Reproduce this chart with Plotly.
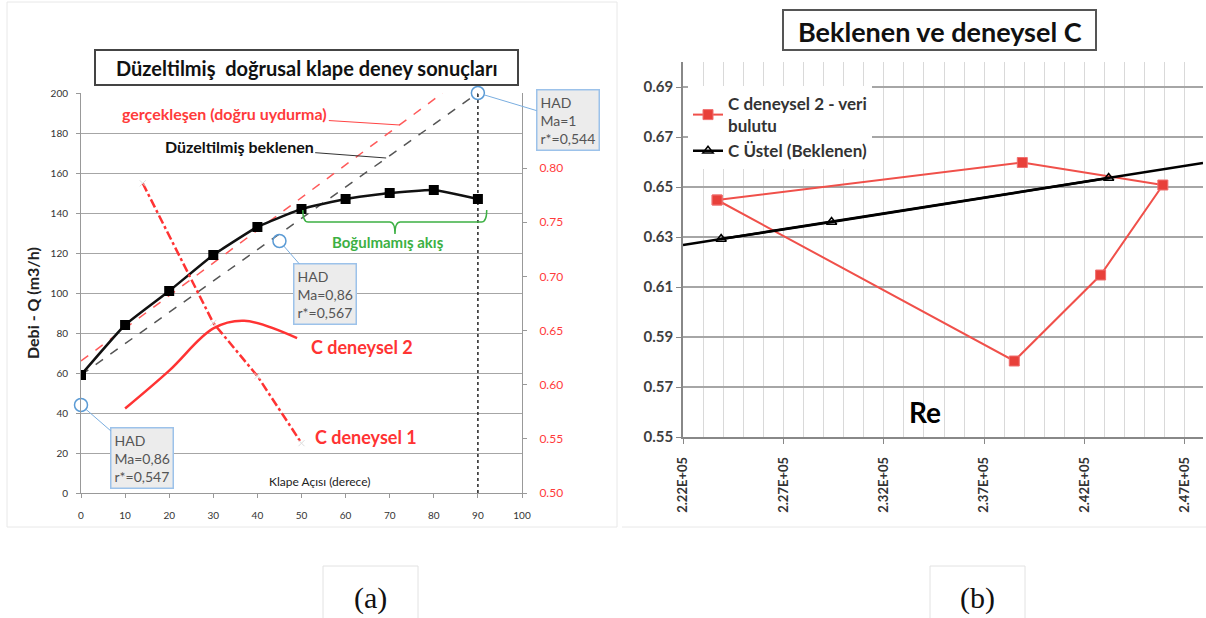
import plotly.graph_objects as go

# ---------------- data: left chart ----------------
klape_aci = [0, 10, 20, 30, 40, 50, 60, 70, 80, 90]
debi = [59, 84, 101, 119, 133, 142, 147, 150, 151.5, 147]
gercek_x = [0, 82]
gercek_y = [66, 200]
beklenen_x = [0, 90]
beklenen_y = [59, 200]
had_x = [0, 45, 90]
had_y = [44, 126, 200]
had_ma = ["0,86", "0,86", "1"]
had_r = ["0,547", "0,567", "0,544"]
c1_x = [14, 30, 40, 50]
c1_y = [0.786, 0.657, 0.608, 0.546]
c2_x = [10, 20, 30, 37, 49]
c2_y = [0.578, 0.613, 0.652, 0.659, 0.643]
left_x_ticks = list(range(0, 101, 10))
left_y_ticks = list(range(0, 201, 20))
right2_ticks = [0.50, 0.55, 0.60, 0.65, 0.70, 0.75, 0.80]

# ---------------- data: right chart ----------------
re_den = [223700, 238900, 245900, 242800, 238500, 223700]
c_den = [0.6448, 0.6598, 0.6508, 0.6148, 0.5804, 0.6448]
re_bek = [223900, 229400, 243200]
c_bek = [0.6292, 0.636, 0.6536]
re_trend = [222000, 247900]
c_trend = [0.6268, 0.6596]
re_tickvals = [222000, 227000, 232000, 237000, 242000, 247000]
re_ticktext = ["2.22E+05", "2.27E+05", "2.32E+05", "2.37E+05", "2.42E+05", "2.47E+05"]
c_ticks = [0.55, 0.57, 0.59, 0.61, 0.63, 0.65, 0.67, 0.69]

W, H = 1206, 618
def px(x):
    return x / W
def py(y):
    return 1 - y / H

FONT = "Lato"
fig = go.Figure()

# ---- left chart traces ----
fig.add_trace(go.Scatter(x=[had_x[2], had_x[2]], y=[0, had_y[2]], mode="lines",
                         line=dict(color="#222", width=1.5, dash="dot"), showlegend=False))
fig.add_trace(go.Scatter(x=gercek_x, y=gercek_y, mode="lines",
                         line=dict(color="#ff5a5a", width=1.5, dash="dash"), showlegend=False))
fig.add_trace(go.Scatter(x=beklenen_x, y=beklenen_y, mode="lines",
                         line=dict(color="#555", width=1.5, dash="dash"), showlegend=False))
fig.add_trace(go.Scatter(x=klape_aci, y=debi, mode="lines+markers",
                         line=dict(color="#111", width=2.5, shape="spline", smoothing=0.4),
                         marker=dict(symbol="square", size=10, color="#000"), showlegend=False))
fig.add_trace(go.Scatter(x=had_x, y=had_y, mode="markers", cliponaxis=False,
                         marker=dict(symbol="circle-open", size=13, color="#5b9bd5",
                                     line=dict(width=1.5)), showlegend=False))
fig.add_trace(go.Scatter(x=c1_x, y=c1_y, yaxis="y2", mode="lines+markers",
                         line=dict(color="#ff3333", width=2.5, dash="dashdot"),
                         marker=dict(symbol="x-thin", size=6, color="#dddddd",
                                     line=dict(width=1, color="#dddddd")),
                         showlegend=False))
fig.add_trace(go.Scatter(x=c2_x, y=c2_y, yaxis="y2", mode="lines",
                         line=dict(color="#ff3333", width=2.5, shape="spline", smoothing=1.0),
                         showlegend=False))

# ---- right chart traces ----
fig.add_trace(go.Scatter(x=re_den, y=c_den, xaxis="x2", yaxis="y3", mode="lines+markers",
                         name="C deneysel 2 - veri<br>bulutu",
                         line=dict(color="#f0504a", width=2),
                         marker=dict(symbol="square", size=10, color="#e8403a",
                                     line=dict(color="#f07070", width=1))))
fig.add_trace(go.Scatter(x=re_trend, y=c_trend, xaxis="x2", yaxis="y3", mode="lines",
                         line=dict(color="#000", width=2.5), showlegend=False))
fig.add_trace(go.Scatter(x=re_bek, y=c_bek, xaxis="x2", yaxis="y3", mode="lines+markers",
                         name="C Üstel (Beklenen)",
                         line=dict(color="#000", width=2.5),
                         marker=dict(symbol="triangle-up-open", size=9, color="#000",
                                     line=dict(width=1.5))))

tickfont_l = dict(family=FONT, size=10, color="#333")
fig.update_layout(
    width=W, height=H, margin=dict(l=0, r=0, t=0, b=0, autoexpand=False),
    paper_bgcolor="white", plot_bgcolor="white",
    font=dict(family=FONT),
    xaxis=dict(domain=[px(81), px(522)], range=[0, 100], tickvals=left_x_ticks, automargin=False,
               showgrid=False, zeroline=False, showline=True, linecolor="#999", linewidth=1,
               ticks="outside", ticklen=4, tickcolor="#999", tickfont=tickfont_l, anchor="y",
               ticklabelstandoff=9),
    yaxis=dict(domain=[py(493), py(93)], range=[0, 200], tickvals=left_y_ticks, automargin=False,
               showgrid=True, gridcolor="#a6a6a6", gridwidth=1.3, zeroline=False,
               showline=True, linecolor="#999", ticks="outside", ticklen=4, tickcolor="#999",
               tickfont=tickfont_l, anchor="x", ticklabelstandoff=6),
    yaxis2=dict(overlaying="y", side="right", anchor="x", range=[0.5, 0.8694], automargin=False,
                tickvals=right2_ticks, tickformat=".2f", showgrid=False, zeroline=False,
                showline=True, linecolor="#999", ticks="outside", ticklen=4, tickcolor="#999",
                tickfont=dict(family=FONT, size=12, color="#ff3b3b"), ticklabelstandoff=10),
    xaxis2=dict(domain=[px(683), px(1203)], range=[222000, 247900], anchor="y3", automargin=False,
                tickvals=re_tickvals, ticktext=re_ticktext, tickangle=-90,
                showgrid=True, gridcolor="#d9d9d9", gridwidth=1,
                minor=dict(dtick=1000, tick0=222000, showgrid=True, gridcolor="#d9d9d9", gridwidth=1),
                zeroline=False, showline=True, linecolor="#888", linewidth=1.5,
                ticks="outside", ticklen=5, tickcolor="#888", ticklabelstandoff=8,
                tickfont=dict(family=FONT, size=13, color="#333", weight="bold")),
    yaxis3=dict(domain=[py(437), py(62)], range=[0.55, 0.70], anchor="x2", automargin=False,
                tickvals=c_ticks, tickformat=".2f",
                showgrid=True, gridcolor="#a6a6a6", gridwidth=1.8, zeroline=False,
                showline=True, linecolor="#888", linewidth=1.5,
                ticks="outside", ticklen=5, tickcolor="#888",
                tickfont=dict(family=FONT, size=15, color="#404040", weight="bold")),
    legend=dict(x=px(688), y=py(86), xanchor="left", yanchor="top",
                bgcolor="white", borderwidth=0, tracegroupgap=2,
                font=dict(family=FONT, size=17, color="#333", weight="bold"),
                itemwidth=30),
)

shapes = []
# panel frames
shapes.append(dict(type="rect", xref="paper", yref="paper", x0=px(7), x1=px(617), y0=py(527), y1=py(2),
                   line=dict(color="#e8e8e8", width=1)))
shapes.append(dict(type="line", xref="paper", yref="paper", x0=px(622), x1=px(1206), y0=py(527), y1=py(527),
                   line=dict(color="#e8e8e8", width=1)))
# title boxes
shapes.append(dict(type="rect", xref="paper", yref="paper", x0=px(95), x1=px(518), y0=py(85), y1=py(50),
                   line=dict(color="#444", width=2), fillcolor="white"))
shapes.append(dict(type="rect", xref="paper", yref="paper", x0=px(783), x1=px(1096), y0=py(50), y1=py(10),
                   line=dict(color="#555", width=2), fillcolor="white"))
# (a) (b) boxes
shapes.append(dict(type="rect", xref="paper", yref="paper", x0=px(323), x1=px(418), y0=py(620), y1=py(566),
                   line=dict(color="#e2e2e2", width=1)))
shapes.append(dict(type="rect", xref="paper", yref="paper", x0=px(930), x1=px(1025), y0=py(620), y1=py(566),
                   line=dict(color="#e2e2e2", width=1)))
# bracket "Boğulmamış akış"
shapes.append(dict(type="path", xref="x", yref="y",
                   path="M50.3,141.5 Q50.3,135.5 51.5,135.5 L70,135.5 Q71.2,135.5 71.2,129.5 "
                        "Q71.2,135.5 72.4,135.5 L90.8,135.5 Q92,135.5 92,141.5",
                   line=dict(color="#3cb043", width=1.5)))
fig.update_layout(shapes=shapes)

C = dict(xanchor="center", yanchor="middle")
ann = []
ann.append(dict(xref="paper", yref="paper", x=px(307), y=py(68), showarrow=False, **C,
                text="Düzeltilmiş\u00a0\u00a0doğrusal klape deney sonuçları",
                font=dict(family=FONT, size=20, color="#111", weight="bold")))
ann.append(dict(xref="paper", yref="paper", x=px(940), y=py(31), showarrow=False, **C,
                text="Beklenen ve deneysel C",
                font=dict(family=FONT, size=27, color="#111", weight="bold")))
# arrows / labels left
ann.append(dict(xref="x", yref="y", x=72.3, y=184, ax=-175, ay=-11, showarrow=True,
                arrowhead=0, arrowwidth=1, arrowcolor="#ff4444",
                text="gerçekleşen (doğru uydurma)",
                font=dict(family=FONT, size=16, color="#ff3b3b", weight="bold")))
ann.append(dict(xref="x", yref="y", x=69.2, y=167.5, ax=-147, ay=-11, showarrow=True,
                arrowhead=0, arrowwidth=1, arrowcolor="#333",
                text="Düzeltilmiş beklenen",
                font=dict(family=FONT, size=16, color="#111", weight="bold")))
ann.append(dict(xref="paper", yref="paper", x=px(388), y=py(242), showarrow=False, **C,
                text="Boğulmamış akış",
                font=dict(family=FONT, size=15, color="#3cb043", weight="bold")))
ann.append(dict(xref="paper", yref="paper", x=px(309), y=py(347), xanchor="left", yanchor="middle",
                showarrow=False, text="C deneysel 2",
                font=dict(family=FONT, size=18, color="#ff3333", weight="bold")))
ann.append(dict(xref="paper", yref="paper", x=px(313), y=py(437), xanchor="left", yanchor="middle",
                showarrow=False, text="C deneysel 1",
                font=dict(family=FONT, size=18, color="#ff3333", weight="bold")))
ann.append(dict(xref="paper", yref="paper", x=px(319), y=py(481), showarrow=False, **C,
                text="Klape Açısı (derece)",
                font=dict(family=FONT, size=12, color="#222")))
ann.append(dict(xref="paper", yref="paper", x=px(32), y=py(303), showarrow=False, textangle=-90, **C,
                text="Debi - Q (m3/h)",
                font=dict(family=FONT, size=16, color="#222", weight="bold")))
# HAD boxes
offsets = [(61, 53), (46, 53), (90, 27)]
for i in range(3):
    ann.append(dict(xref="x", yref="y", x=had_x[i], y=had_y[i], ax=offsets[i][0], ay=offsets[i][1],
                    showarrow=True, arrowhead=0, arrowwidth=1, arrowcolor="#7aaee0",
                    standoff=6, align="left",
                    text=f"HAD<br>Ma={had_ma[i]}<br>r*={had_r[i]}",
                    bgcolor="#ececec", bordercolor="#9cc2ea", borderwidth=1.5, borderpad=3,
                    font=dict(family=FONT, size=14, color="#555")))
# right chart label
ann.append(dict(xref="paper", yref="paper", x=px(925), y=py(412), showarrow=False, **C,
                text="Re", font=dict(family=FONT, size=28, color="#000", weight="bold")))
# panel labels
ann.append(dict(xref="paper", yref="paper", x=px(370), y=py(598), showarrow=False, **C,
                text="(a)", font=dict(family="Liberation Serif", size=30, color="#111")))
ann.append(dict(xref="paper", yref="paper", x=px(977), y=py(598), showarrow=False, **C,
                text="(b)", font=dict(family="Liberation Serif", size=30, color="#111")))
fig.update_layout(annotations=ann)

fig.write_html("out.html")
